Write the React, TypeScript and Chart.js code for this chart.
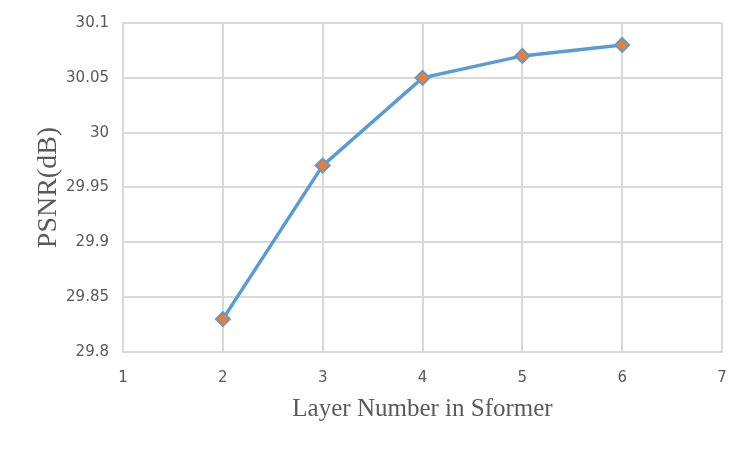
import React, { useEffect, useRef } from "react";
import { Chart, registerables } from "chart.js";

Chart.register(...registerables);

const layerNumbers = [2, 3, 4, 5, 6];
const psnrValues = [29.83, 29.97, 30.05, 30.07, 30.08];
const xTitle = "Layer Number in Sformer";
const yTitle = "PSNR(dB)";
const xMin = 1;
const xMax = 7;
const yMin = 29.8;
const yMax = 30.1;
const yStep = 0.05;

export default function App() {
  const canvasRef = useRef<HTMLCanvasElement | null>(null);

  useEffect(() => {
    const canvas = canvasRef.current;
    if (!canvas) return;
    const points = layerNumbers.map((x, i) => ({ x, y: psnrValues[i] }));
    const gridColor = "#d9d9d9";
    const textColor = "#595959";
    const chart = new Chart(canvas, {
      type: "line",
      data: {
        datasets: [
          {
            data: points,
            borderColor: "#5b9bd5",
            borderWidth: 3.5,
            backgroundColor: "#ed7d31",
            pointStyle: "rectRot",
            pointRadius: 7,
            pointBorderWidth: 2,
            pointBorderColor: "#5b9bd5",
            pointBackgroundColor: "#ed7d31",
            tension: 0,
          },
        ],
      },
      options: {
        animation: false,
        responsive: false,
        maintainAspectRatio: false,
        layout: { padding: { left: 0, top: 22, right: 28, bottom: 0 } },
        plugins: { legend: { display: false }, tooltip: { enabled: false } },
        scales: {
          x: {
            type: "linear",
            min: xMin,
            max: xMax,
            afterFit: (s: any) => {
              s.height = 97;
            },
            ticks: {
              stepSize: 1,
              padding: 17,
              color: textColor,
              font: { family: "DejaVu Sans", size: 15 },
            },
            grid: { color: gridColor, lineWidth: 2, drawTicks: false },
            border: { color: gridColor, width: 2 },
            title: {
              display: true,
              text: xTitle,
              color: textColor,
              font: { family: "Liberation Serif", size: 25 },
              padding: { top: 0, bottom: 25 },
            },
          },
          y: {
            min: yMin,
            max: yMax,
            afterFit: (s: any) => {
              s.width = 123;
            },
            ticks: {
              stepSize: yStep,
              padding: 14,
              color: textColor,
              font: { family: "DejaVu Sans", size: 15 },
              callback: (v: any) => String(Number(Number(v).toFixed(2))),
            },
            grid: { color: gridColor, lineWidth: 2, drawTicks: false },
            border: { color: gridColor, width: 2 },
            title: {
              display: true,
              text: yTitle,
              color: textColor,
              font: { family: "Liberation Serif", size: 28 },
              padding: { top: 32, bottom: 0 },
            },
          },
        },
      },
    });
    return () => chart.destroy();
  }, []);

  return (
    <div
      style={{
        position: "fixed",
        left: 0,
        top: 0,
        width: 750,
        height: 449,
        background: "#ffffff",
      }}
    >
      <canvas ref={canvasRef} width={750} height={449} style={{ display: "block" }} />
    </div>
  );
}
